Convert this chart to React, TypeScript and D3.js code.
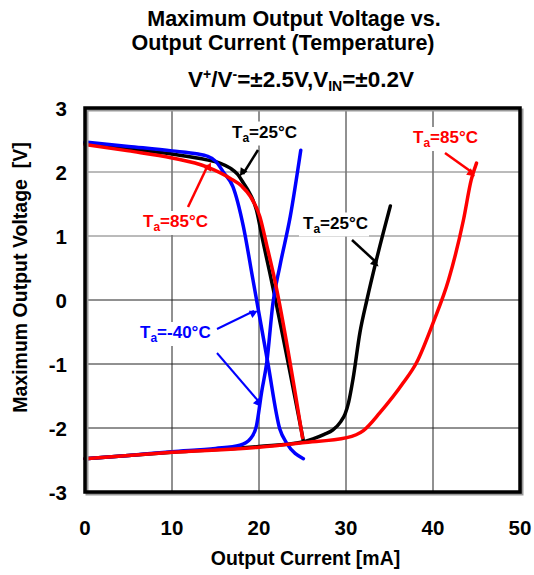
import React from "react";
import * as d3 from "d3";

const xTicks = [0, 10, 20, 30, 40, 50];
const yTicks = [-3, -2, -1, 0, 1, 2, 3];

// [current mA, voltage V]
const blueSource: [number, number][] = [
  [0, 2.47], [5, 2.4], [10, 2.33], [13, 2.28], [14, 2.25], [15, 2.17], [16, 1.98], [17, 1.77],
  [18.2, 1.15], [19.3, 0.32], [21, -0.97], [22.4, -2.02], [23.2, -2.24], [25.1, -2.48],
];
const blueSink: [number, number][] = [
  [0, -2.48], [5, -2.43], [10, -2.37], [15, -2.32], [17.8, -2.27], [19, -2.17], [19.7, -1.97],
  [20.3, -1.44], [20.9, -0.97], [21.6, -0.05], [22.4, 0.53], [23.6, 1.31], [24.8, 2.34],
];
const blackSource: [number, number][] = [
  [0, 2.45], [5, 2.37], [10, 2.28], [14, 2.19], [15.5, 2.14], [16.7, 2.06], [17.5, 1.97],
  [18.2, 1.83], [19, 1.65], [19.7, 1.41], [20.4, 0.95], [21.2, 0.45], [25.1, -2.2],
];
const blackSink: [number, number][] = [
  [0, -2.48], [10, -2.38], [20, -2.29], [25, -2.22], [26.2, -2.17], [27.5, -2.1], [28.5, -2.03],
  [29.4, -1.9], [29.9, -1.78], [30.3, -1.6], [30.8, -1.24], [31.6, -0.51], [32.4, 0.0],
  [33.5, 0.63], [35.1, 1.47],
];
const redSource: [number, number][] = [
  [0, 2.43], [5, 2.33], [10, 2.22], [14, 2.08], [16.7, 1.9], [18, 1.78], [19, 1.62],
  [20.1, 1.3], [20.9, 0.85], [21.8, 0.32], [25, -2.15],
];
const redSink: [number, number][] = [
  [0, -2.48], [10, -2.38], [20, -2.3], [25, -2.23], [30.1, -2.15], [32, -2.04], [33.9, -1.76],
  [36.6, -1.29], [38.1, -0.98], [40, -0.36], [41.8, 0.32], [43.5, 1.25], [44.4, 1.88], [45, 2.14],
];

const FONT = "'Liberation Sans', Arial, Helvetica, sans-serif";

const W = 534, H = 575;
const x0 = 85, x1 = 520, y0 = 108, y1 = 492;

export default function App() {
  const x = d3.scaleLinear().domain([0, 50]).range([x0, x1]);
  const y = d3.scaleLinear().domain([-3, 3]).range([y1, y0]);
  const line = d3.line<[number, number]>().x(d => x(d[0])).y(d => y(d[1])).curve(d3.curveMonotoneX);

  const series = [
    { d: blackSource, c: "#000" },
    { d: blackSink, c: "#000" },
    { d: blueSource, c: "#0000ff" },
    { d: blueSink, c: "#0000ff" },
    { d: redSource, c: "#ff0000" },
    { d: redSink, c: "#ff0000" },
  ];

  const label = (tx: number, ty: number, temp: string, color: string, bw: number) => (
    <g>
      <rect x={tx - 4} y={ty - 16} width={bw} height={24} fill="#fff" />
      <text x={tx} y={ty} fill={color} fontSize={17} fontWeight="bold" fontFamily={FONT}>
        T<tspan fontSize={12} dy={4}>a</tspan><tspan dy={-4}>={temp}°C</tspan>
      </text>
    </g>
  );

  const arrow = (ax: number, ay: number, bx: number, by: number, color: string, sw: number, id: string) => (
    <line x1={ax} y1={ay} x2={bx} y2={by} stroke={color} strokeWidth={sw} markerEnd={`url(#${id})`} />
  );

  return (
    <svg width={W} height={H} style={{ position: "absolute", left: 0, top: 0, background: "#fff" }}>
      <defs>
        {[["mk", "#000"], ["mr", "#ff0000"], ["mb", "#0000ff"]].map(([id, c]) => (
          <marker key={id} id={id} viewBox="0 0 10 10" refX="9" refY="5" markerWidth="6" markerHeight="5"
            markerUnits="userSpaceOnUse" orient="auto" style={{ overflow: "visible" }}>
            <path d="M0,0 L10,5 L0,10 Z" fill={c} transform="scale(1.6)" />
          </marker>
        ))}
      </defs>
      {/* title */}
      <g fontFamily={FONT} fontWeight="bold" fill="#000" textAnchor="middle" fontSize={21.5}>
        <text x={294} y={26}>Maximum Output Voltage vs.</text>
        <text x={283} y={50}>Output Current (Temperature)</text>
        <text x={301} y={87} fontSize={22.5}>
          V<tspan fontSize={14} dy={-8}>+</tspan><tspan dy={8}>/V</tspan><tspan fontSize={14} dy={-8}>-</tspan>
          <tspan dy={8}>=±2.5V,V</tspan><tspan fontSize={14} dy={4}>IN</tspan><tspan dy={-4}>=±0.2V</tspan>
        </text>
      </g>

      {/* grid */}
      {xTicks.slice(1, -1).map(t => (
        <line key={"gx" + t} x1={x(t)} x2={x(t)} y1={y0} y2={y1} stroke="#222" strokeWidth={1} />
      ))}
      {yTicks.slice(1, -1).map(t => (
        <line key={"gy" + t} x1={x0} x2={x1} y1={y(t)} y2={y(t)} stroke={t > 0 ? "#777" : "#222"} strokeWidth={1} />
      ))}

      {/* label backgrounds & labels */}
      {label(232, 137.5, "25", "#000", 70)}
      {label(143, 227, "85", "#ff0000", 72)}
      {label(303, 228.5, "25", "#000", 70)}
      {label(413, 143, "85", "#ff0000", 70)}
      {label(140, 338, "-40", "#0000ff", 75)}

      {/* curves */}
      {series.map((s, i) => (
        <path key={i} d={line(s.d) || ""} fill="none" stroke={s.c} strokeWidth={3.5} strokeLinejoin="round" strokeLinecap="round" />
      ))}

      {/* arrows */}
      {arrow(258, 150, 243, 174, "#000", 2.5, "mk")}
      {arrow(188, 207, 208, 165, "#ff0000", 2.5, "mr")}
      {arrow(352, 240, 377, 263, "#000", 2.5, "mk")}
      {arrow(445, 153, 473, 173, "#ff0000", 2.5, "mr")}
      {arrow(217, 329, 254, 311, "#0000ff", 2, "mb")}
      {arrow(217, 353, 260, 403, "#0000ff", 2, "mb")}

      {/* frame */}
      <rect x={x0 + 2} y={y0 + 2} width={x1 - x0} height={y1 - y0} fill="none" stroke="#999" strokeWidth={3} />
      <rect x={x0} y={y0} width={x1 - x0} height={y1 - y0} fill="none" stroke="#000" strokeWidth={3.5} />

      {/* ticks */}
      <g fontFamily={FONT} fontWeight="bold" fontSize={20.5} fill="#000">
        {yTicks.map(t => (
          <text key={"yt" + t} x={67} y={y(t) + 8} textAnchor="end">{t}</text>
        ))}
        {xTicks.map(t => (
          <text key={"xt" + t} x={x(t)} y={535} textAnchor="middle">{t}</text>
        ))}
      </g>
      <text x={305.5} y={565} textAnchor="middle" fontFamily={FONT} fontWeight="bold" fontSize={19.5}>Output Current [mA]</text>
      <text transform="translate(27,277.5) rotate(-90)" textAnchor="middle" fontFamily={FONT} fontWeight="bold" fontSize={19.5}
        style={{ whiteSpace: "pre" }}>Maximum Output Voltage  [V]</text>
    </svg>
  );
}
